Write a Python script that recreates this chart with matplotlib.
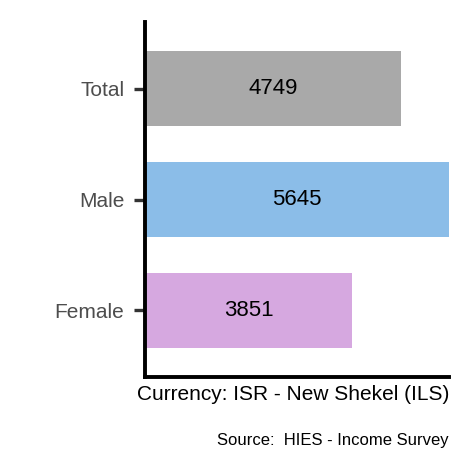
import matplotlib
matplotlib.use("Agg")
import matplotlib.pyplot as plt

categories = ["Female", "Male", "Total"]
values = [3851, 5645, 4749]
colors = ["#D6A8E0", "#8BBDE8", "#A9A9A9"]
xlabel = "Currency: ISR - New Shekel (ILS)"
caption = "Source:  HIES - Income Survey"

plt.rcParams["font.family"] = ["Liberation Sans", "DejaVu Sans"]

fig = plt.figure(figsize=(4.72, 4.72), dpi=100)
ax = fig.add_axes([145/472, 95/472, 304/472, 355/472])
ypos = list(range(len(categories)))
ax.barh(ypos, values, height=0.68, color=colors)
for y, v in zip(ypos, values):
    ax.text(v / 2, y, str(v), ha="center", va="center", fontsize=16, color="black")
ax.set_xlim(0, max(values))
ax.set_ylim(-0.6, len(categories) - 0.4)
ax.set_yticks(ypos)
ax.set_yticklabels(categories, fontsize=15, color="#4D4D4D")
ax.set_xticks([])
ax.tick_params(axis="y", length=8, width=2.4, color="#333333", pad=7)
for s in ["top", "right"]:
    ax.spines[s].set_visible(False)
for s in ["left", "bottom"]:
    ax.spines[s].set_linewidth(2.8)
    ax.spines[s].set_color("black")
ax.set_xlabel(xlabel, fontsize=15, color="black", labelpad=6, loc="right")
fig.text(449/472, 1 - 440/472, caption, ha="right", va="center", fontsize=12, color="black")
fig.savefig("out.png", dpi=100)
